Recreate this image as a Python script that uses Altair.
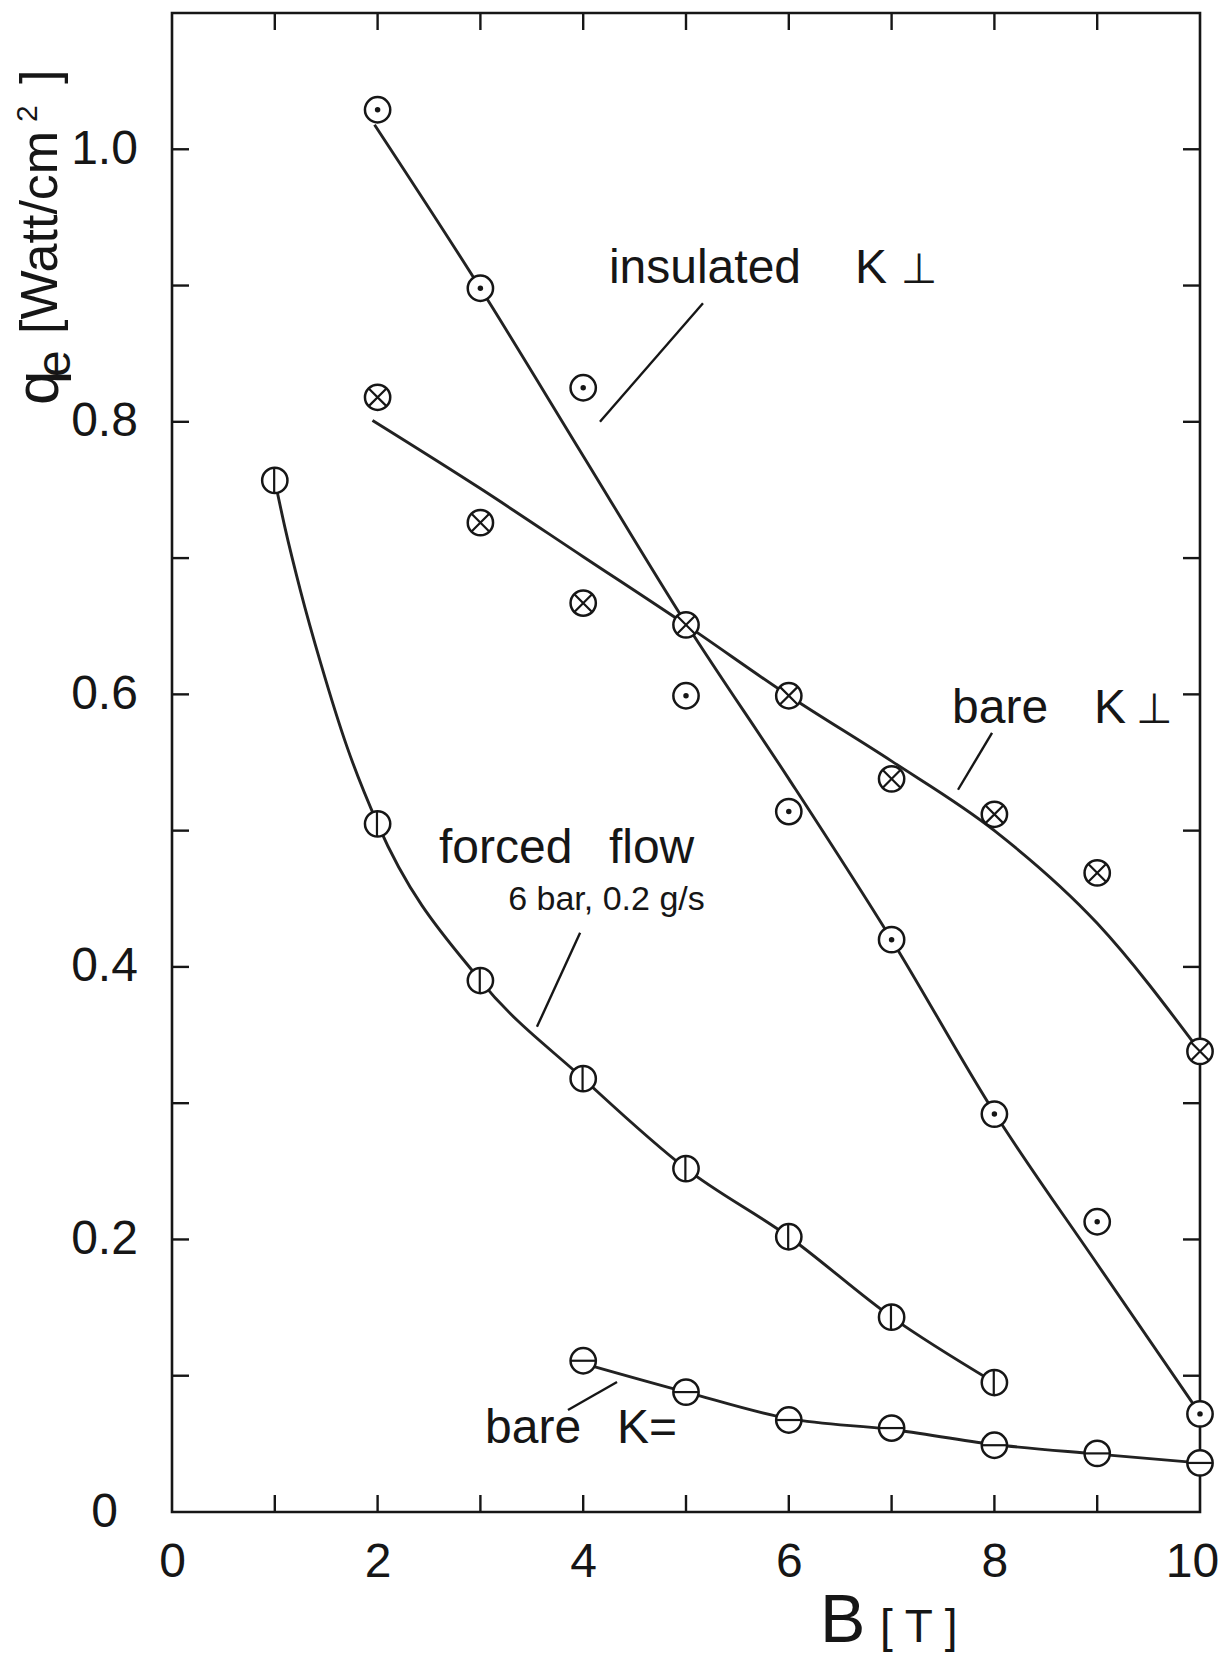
import altair as alt
import pandas as pd

FONT = "Liberation Sans"
INK = "#161616"

# ---- measured heat flux q_e [W/cm^2] versus field B [T] ----
ins_b = [2, 3, 4, 5, 6, 7, 8, 9, 10]
ins_q = [1.029, 0.898, 0.825, 0.599, 0.514, 0.420, 0.292, 0.213, 0.072]

bperp_b = [2, 3, 4, 5, 6, 7, 8, 9, 10]
bperp_q = [0.818, 0.726, 0.667, 0.651, 0.599, 0.538, 0.512, 0.469, 0.338]

flow_b = [1, 2, 3, 4, 5, 6, 7, 8]
flow_q = [0.757, 0.505, 0.390, 0.318, 0.252, 0.202, 0.143, 0.095]

bpar_b = [4, 5, 6, 7, 8, 9, 10]
bpar_q = [0.111, 0.088, 0.0675, 0.0616, 0.049, 0.043, 0.036]

# ---- hand-drawn trend curves ----
ins_fit_b = [1.97, 3, 4, 5, 6, 7, 8, 9, 10]
ins_fit_q = [1.018, 0.898, 0.775, 0.652, 0.538, 0.420, 0.293, 0.182, 0.072]

bperp_fit_b = [1.95, 3, 4, 5, 6, 7, 8, 9, 10]
bperp_fit_q = [0.801, 0.751, 0.701, 0.651, 0.599, 0.551, 0.500, 0.432, 0.338]

flow_fit_b = [1.0, 1.1, 1.25, 1.45, 1.7, 2, 3, 4, 5, 6, 7, 8]
flow_fit_q = [0.757, 0.722, 0.676, 0.622, 0.562, 0.505, 0.390, 0.318, 0.252, 0.202, 0.143, 0.095]

bpar_fit_b = [4, 5, 6, 7, 8, 9, 10]
bpar_fit_q = [0.109, 0.088, 0.0685, 0.0605, 0.0495, 0.0425, 0.036]

# ---- axis ticks and labels ----
x_labels = [0, 2, 4, 6, 8, 10]
y_labels = [0, 0.2, 0.4, 0.6, 0.8, 1.0]
x_minor = [1, 2, 3, 4, 5, 6, 7, 8, 9]
y_minor = [0.1, 0.2, 0.3, 0.4, 0.5, 0.6, 0.7, 0.8, 0.9, 1.0]

# ---- curve annotations ----
label_text = ["insulated", "K", "bare", "K", "forced", "flow", "6 bar, 0.2 g/s", "bare", "K="]
label_b = [4.25, 6.644, 7.588, 8.969, 2.597, 4.25, 3.27, 3.045, 4.329]
label_q = [0.902, 0.902, 0.579, 0.579, 0.476, 0.476, 0.442, 0.0506, 0.0506]
label_size = [48, 48, 48, 48, 48, 48, 34, 48, 48]

tack_b = [7.09, 9.377]
tack_q = [0.902, 0.579]

leader_b = [5.165, 7.977, 3.97, 4.329]
leader_q = [0.887, 0.5717, 0.425, 0.0954]
leader_b2 = [4.163, 7.646, 3.55, 3.852]
leader_q2 = [0.800, 0.530, 0.356, 0.0749]

W, H = 1028, 1499

xs = alt.Scale(domain=[0, 10], nice=False, zero=False)
ys = alt.Scale(domain=[0, 1.1], nice=False, zero=False)

common_axis = dict(
    domain=False, ticks=False, tickSize=0, grid=False, title=None,
    labelFont=FONT, labelFontSize=48, labelColor=INK,
    labelFlush=False, labelOverlap=False, labelBound=False,
)
x_axis = alt.Axis(
    values=x_labels, format="d", labelPadding=26,
    # keep the last label inside the page edge
    labelOffset={"condition": {"test": "datum.value == 10", "value": -8}, "value": 0},
    **common_axis,
)
y_axis = alt.Axis(
    values=y_labels,
    labelExpr="datum.value == 0 ? '0' : format(datum.value, '.1f')",
    labelAlign="center", labelBaseline="middle", labelPadding=68,
    **common_axis,
)


def frame(b, q):
    return pd.DataFrame({"b": b, "q": q})


def bx():
    return alt.X("b:Q", scale=xs, axis=x_axis)


def qy():
    return alt.Y("q:Q", scale=ys, axis=y_axis)


# inward tick marks on all four sides
tx = pd.DataFrame({"b": x_minor})
ty = pd.DataFrame({"q": y_minor})
tick_style = dict(color=INK, strokeWidth=2.4)
ticks_bottom = alt.Chart(tx).mark_rule(**tick_style).encode(
    x=bx(), y=alt.value(H), y2=alt.value(H - 17)
)
ticks_top = alt.Chart(tx).mark_rule(**tick_style).encode(
    x=bx(), y=alt.value(0), y2=alt.value(17)
)
ticks_left = alt.Chart(ty).mark_rule(**tick_style).encode(
    y=qy(), x=alt.value(0), x2=alt.value(17)
)
ticks_right = alt.Chart(ty).mark_rule(**tick_style).encode(
    y=qy(), x=alt.value(W), x2=alt.value(W - 17)
)


def curve(b, q):
    return alt.Chart(frame(b, q)).mark_line(
        color="#222222", strokeWidth=2.9, interpolate="monotone"
    ).encode(x=bx(), y=qy())


curves = [
    curve(ins_fit_b, ins_fit_q),
    curve(bperp_fit_b, bperp_fit_q),
    curve(flow_fit_b, flow_fit_q),
    curve(bpar_fit_b, bpar_fit_q),
]

MSIZE = 640


def ring(b, q):
    return alt.Chart(frame(b, q)).mark_point(
        shape="circle", filled=True, fill="white", stroke=INK,
        strokeWidth=2.5, size=MSIZE, opacity=1,
    ).encode(x=bx(), y=qy())


def inner(b, q, path):
    return alt.Chart(frame(b, q)).mark_point(
        shape=path, filled=False, color=INK, strokeWidth=2.2,
        size=MSIZE, opacity=1,
    ).encode(x=bx(), y=qy())


X_PATH = "M -0.7 -0.7 L 0.7 0.7 M -0.7 0.7 L 0.7 -0.7"
V_PATH = "M -0.05 -1 L -0.05 1"
H_PATH = "M -1 0 L 1 0"

markers = [
    ring(ins_b, ins_q),
    alt.Chart(frame(ins_b, ins_q)).mark_point(
        shape="circle", filled=True, color=INK, size=30, opacity=1
    ).encode(x=bx(), y=qy()),
    ring(bperp_b, bperp_q),
    inner(bperp_b, bperp_q, X_PATH),
    ring(flow_b, flow_q),
    inner(flow_b, flow_q, V_PATH),
    ring(bpar_b, bpar_q),
    inner(bpar_b, bpar_q, H_PATH),
]

# leader lines from labels to curves
leaders = alt.Chart(
    pd.DataFrame({"b": leader_b, "q": leader_q, "b2": leader_b2, "q2": leader_q2})
).mark_rule(color=INK, strokeWidth=2.4).encode(
    x=bx(), y=qy(), x2=alt.X2("b2:Q"), y2=alt.Y2("q2:Q")
)

labels = alt.Chart(
    pd.DataFrame({"t": label_text, "b": label_b, "q": label_q, "fs": label_size})
).mark_text(align="left", baseline="alphabetic", font=FONT, color=INK).encode(
    x=bx(), y=qy(), text="t:N", size=alt.Size("fs:Q", scale=None)
)

tacks = alt.Chart(
    pd.DataFrame({"t": ["\u22a5", "\u22a5"], "b": tack_b, "q": tack_q})
).mark_text(
    align="left", baseline="alphabetic", font="DejaVu Sans", fontSize=42, color=INK
).encode(x=bx(), y=qy(), text="t:N")


# axis titles built from pieces so that sub/superscripts keep their sizes
def piece(txt, px, py, fs, angle=0):
    kw = dict(align="left", baseline="alphabetic", font=FONT, fontSize=fs,
              color=INK, text=txt)
    if angle:
        kw["angle"] = angle
    return alt.Chart(frame([0], [0])).mark_text(**kw).encode(
        x=alt.value(px), y=alt.value(py)
    )


titles = [
    piece("q", -114, 392, 62, 270),
    piece("e", -102, 364, 48, 270),
    piece("[Watt/cm", -115, 321, 52, 270),
    piece("2", -135, 109, 30, 270),
    piece("]", -115, 71, 52, 270),
    piece("B", 648, 1629, 68),
    piece("[ T ]", 708, 1629, 46),
]

chart = alt.layer(
    ticks_bottom, ticks_top, ticks_left, ticks_right,
    *curves,
    *markers,
    leaders,
    labels,
    tacks,
    *titles,
).properties(
    width=W,
    height=H,
    autosize=alt.AutoSizeParams(type="none"),
    padding={"left": 172, "top": 13, "right": 21, "bottom": 145},
    background="white",
).configure_view(
    stroke=INK, strokeWidth=2.6
)

chart.save("out.html", embed_options={"renderer": "svg", "actions": False})
